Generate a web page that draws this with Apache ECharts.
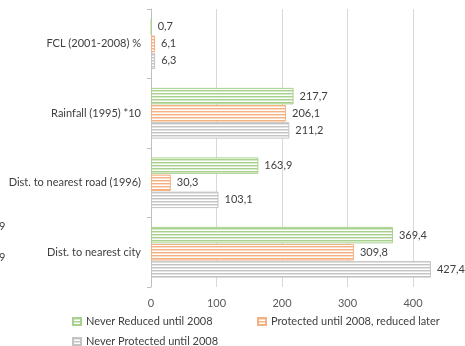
<!DOCTYPE html>
<html>
<head>
<meta charset="utf-8">
<script src="https://cdn.jsdelivr.net/npm/echarts@6/dist/echarts.min.js"></script>
<style>
  html, body { margin: 0; padding: 0; background: #fff; }
  #chart { width: 465px; height: 346px; }
</style>
</head>
<body>
<div id="chart"></div>
<script>
// Indicators shown on the category axis (top to bottom)
const categories = [
  'FCL (2001-2008) %',
  'Rainfall (1995) *10',
  'Dist. to nearest road (1996)',
  'Dist. to nearest city'
];

// Series names
const seriesNames = [
  'Never Reduced until 2008',
  'Protected until 2008, reduced later',
  'Never Protected until 2008'
];

// Values per series, in category order
const neverReduced = [0.7, 217.7, 163.9, 369.4];
const protectedReducedLater = [6.1, 206.1, 30.3, 309.8];
const neverProtected = [6.3, 211.2, 103.1, 427.4];

// Value axis ticks
const axisTicks = [0, 100, 200, 300, 400, 500];

const FONT = 'Lato, "Open Sans", sans-serif';

// Horizontal-stripe fill used by every bar
function stripes(color) {
  const c = document.createElement('canvas');
  c.width = 4;
  c.height = 3;
  const g = c.getContext('2d');
  g.fillStyle = '#ffffff';
  g.fillRect(0, 0, 4, 3);
  g.fillStyle = color;
  g.fillRect(0, 0, 4, 1);
  g.globalAlpha = 0.45;
  g.fillRect(0, 1, 4, 1);
  return { image: c, repeat: 'repeat' };
}

const palette = ['#A9D18E', '#F4B183', '#C4C4C4'];
const values = [neverReduced, protectedReducedLater, neverProtected];

const fmt = v => String(v).replace('.', ',');

const series = seriesNames.map((name, i) => ({
  name: name,
  type: 'bar',
  data: values[i],
  barGap: '4%',
  barCategoryGap: '27%',
  itemStyle: {
    color: stripes(palette[i]),
    borderColor: palette[i],
    borderWidth: 1
  },
  label: {
    show: true,
    position: 'right',
    distance: 6,
    color: '#404040',
    fontFamily: FONT,
    fontSize: 11,
    formatter: p => fmt(p.value)
  }
}));

const legendBase = {
  icon: 'rect',
  itemWidth: 8,
  itemHeight: 7,
  padding: 0,
  orient: 'horizontal',
  textStyle: { color: '#404040', fontFamily: FONT, fontSize: 11 },
  selectedMode: false
};

const chart = echarts.init(document.getElementById('chart'), null, { renderer: 'canvas' });
chart.setOption({
  animation: false,
  backgroundColor: '#ffffff',
  grid: {
    left: 151, top: 9, width: 327.5, height: 278,
    containLabel: false,
    outerBoundsMode: 'none'
  },
  xAxis: {
    type: 'value',
    min: axisTicks[0],
    max: axisTicks[axisTicks.length - 1],
    interval: 100,
    axisLine: { show: false },
    axisTick: { show: false },
    splitLine: { lineStyle: { color: '#D9D9D9', width: 1 } },
    axisLabel: { color: '#595959', fontFamily: FONT, fontSize: 11, margin: 11 }
  },
  yAxis: {
    type: 'category',
    inverse: true,
    data: categories,
    axisLine: { show: true, lineStyle: { color: '#BFBFBF' } },
    axisTick: { show: true, length: 4, lineStyle: { color: '#BFBFBF' } },
    axisLabel: { color: '#404040', fontFamily: FONT, fontSize: 11, margin: 10 }
  },
  legend: [
    Object.assign({}, legendBase, { data: [seriesNames[0]], left: 72, top: 316 }),
    Object.assign({}, legendBase, { data: [seriesNames[1]], left: 257, top: 316 }),
    Object.assign({}, legendBase, { data: [seriesNames[2]], left: 72, top: 336 })
  ],
  graphic: [
    { type: 'text', left: -1, top: 221, style: { text: '9', fill: '#404040', font: '11px ' + FONT } },
    { type: 'text', left: -1, top: 252, style: { text: '9', fill: '#404040', font: '11px ' + FONT } }
  ],
  series: series
});
</script>
</body>
</html>
